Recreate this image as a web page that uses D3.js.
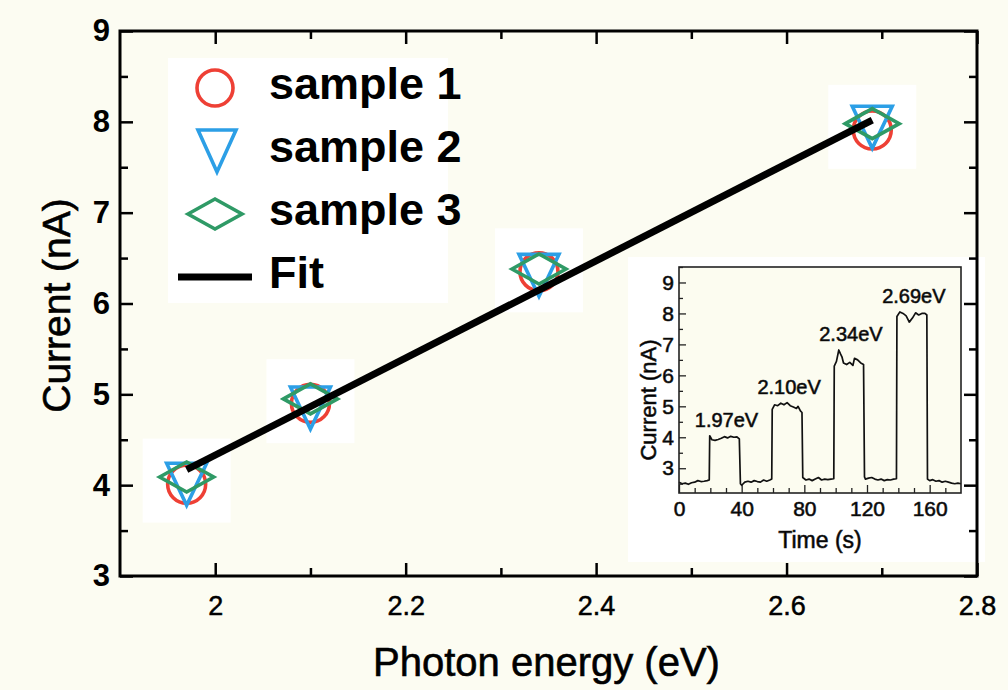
<!DOCTYPE html>
<html>
<head>
<meta charset="utf-8">
<script src="https://cdn.jsdelivr.net/npm/d3@7"></script>
<style>
  html, body { margin: 0; padding: 0; background: #fcfcf2; }
  svg { display: block; }
  text { font-family: "Liberation Sans", Arial, Helvetica, sans-serif; fill: #000; }
</style>
</head>
<body>
<svg id="chart" width="1008" height="690"></svg>
<script>
// ---------------- data ----------------
const energy = [1.97, 2.10, 2.34, 2.69];            // photon energy (eV)
const sample1 = [4.01, 4.90, 6.35, 7.91];           // current (nA)
const sample2 = [4.01, 4.85, 6.31, 7.94];
const sample3 = [4.09, 4.95, 6.38, 7.98];
const fitEnergy = [1.97, 2.69];
const fitCurrent = [4.17, 8.02];
const seriesNames = ["sample 1", "sample 2", "sample 3"];
const fitName = "Fit";
const xTicks = [2, 2.2, 2.4, 2.6, 2.8];
const xMinorTicks = [2.1, 2.3, 2.5, 2.7];
const yTicks = [3, 4, 5, 6, 7, 8, 9];
const yMinorTicks = [3.5, 4.5, 5.5, 6.5, 7.5, 8.5];

// inset: photocurrent trace
const insetTime = [0,2,4,6,8,10,12,14,16,18,19.3,19.6,21,23,25,27,29,31,33,35,37,38.5,39.2,40,42,44,46,48,50,52,54,56,58,59.2,59.5,61,63,65,67,69,71,73,75,76,77.5,78.5,79,81,83,85,87,89,91,93,95,97,98.8,99.1,100.5,102,103,104,105,107,109,111,112,114,116,117.8,118.4,119,121,123,125,127,129,131,133,135,137,138.8,139.1,141,143,145,147,149,151,153,155,157,158.2,158.6,160,162,164,166,168,170,172,174,176,178,180];
const insetCurrent = [2.55,2.50,2.52,2.48,2.53,2.55,2.60,2.57,2.58,2.60,2.62,4.05,3.92,3.90,3.93,3.97,4.02,3.98,4.03,4.00,4.01,3.95,2.50,2.45,2.55,2.58,2.55,2.60,2.57,2.55,2.62,2.58,2.62,2.65,4.90,5.05,5.02,5.10,5.05,5.12,5.02,4.98,4.93,5.00,4.85,4.80,2.70,2.62,2.65,2.60,2.65,2.70,2.62,2.65,2.63,2.65,2.66,6.30,6.45,6.82,6.70,6.60,6.40,6.35,6.42,6.32,6.55,6.50,6.40,6.35,2.72,2.65,2.68,2.70,2.65,2.62,2.65,2.60,2.63,2.62,2.65,2.66,7.90,8.05,8.00,7.92,7.72,7.85,8.02,7.95,8.00,8.00,7.95,2.65,2.60,2.63,2.58,2.60,2.55,2.58,2.55,2.52,2.50,2.52,2.50];
const pulseStart = [19.6, 59.5, 99.1, 139.1];
const pulseEnd = [38.5, 78.5, 117.8, 158.2];
const insetXTicks = [0, 40, 80, 120, 160];
const insetXMinor = [10,20,30,50,60,70,90,100,110,130,140,150,170];
const insetYTicks = [3, 4, 5, 6, 7, 8, 9];
const insetYMinor = [2.5,3.5,4.5,5.5,6.5,7.5,8.5,9.5];

// ---------------- layout ----------------
const svg = d3.select("#chart");
const colors = ["#ee4035", "#2c9fe6", "#2f9a66"];
const x = d3.scaleLinear().domain([1.9, 2.8]).range([120, 977]);
const y = d3.scaleLinear().domain([3, 9]).range([576, 31]);
const fmt = d3.format("");

// white patches (scan artefacts of the original figure)
svg.append("rect").attr("x", 168).attr("y", 58).attr("width", 280).attr("height", 245).attr("fill", "#ffffff");
svg.append("rect").attr("x", 628).attr("y", 257).attr("width", 357).attr("height", 305).attr("fill", "#ffffff");
svg.selectAll("rect.patch").data(energy).join("rect").attr("class", "patch")
  .attr("x", d => x(d) - 44).attr("y", (d, i) => y((sample1[i] + sample3[i]) / 2) - 42)
  .attr("width", 88).attr("height", 84).attr("fill", "#ffffff");

// axes (ticks inward)
const gx = svg.append("g").attr("transform", `translate(0,${y.range()[0]})`)
  .call(d3.axisBottom(x).tickValues(xTicks).tickSize(-13).tickSizeOuter(0).tickPadding(20).tickFormat(fmt));
const gxMinor = svg.append("g").attr("transform", `translate(0,${y.range()[0]})`)
  .call(d3.axisBottom(x).tickValues(xMinorTicks).tickSize(-8).tickSizeOuter(0).tickFormat(""));
const gxt = svg.append("g").attr("transform", `translate(0,${y.range()[1]})`)
  .call(d3.axisTop(x).tickValues(xTicks).tickSize(-13).tickSizeOuter(0).tickFormat(""));
const gxtMinor = svg.append("g").attr("transform", `translate(0,${y.range()[1]})`)
  .call(d3.axisTop(x).tickValues(xMinorTicks).tickSize(-8).tickSizeOuter(0).tickFormat(""));
const gy = svg.append("g").attr("transform", `translate(${x.range()[0]},0)`)
  .call(d3.axisLeft(y).tickValues(yTicks).tickSize(-13).tickSizeOuter(0).tickPadding(10).tickFormat(fmt));
const gyMinor = svg.append("g").attr("transform", `translate(${x.range()[0]},0)`)
  .call(d3.axisLeft(y).tickValues(yMinorTicks).tickSize(-8).tickSizeOuter(0).tickFormat(""));
const gyr = svg.append("g").attr("transform", `translate(${x.range()[1]},0)`)
  .call(d3.axisRight(y).tickValues(yTicks).tickSize(-13).tickSizeOuter(0).tickFormat(""));
const gyrMinor = svg.append("g").attr("transform", `translate(${x.range()[1]},0)`)
  .call(d3.axisRight(y).tickValues(yMinorTicks).tickSize(-8).tickSizeOuter(0).tickFormat(""));
[gx, gxMinor, gxt, gxtMinor, gy, gyMinor, gyr, gyrMinor].forEach(g => {
  g.select(".domain").remove();
  g.selectAll(".tick line").attr("stroke", "#000").attr("stroke-width", 2.5);
});
gx.selectAll(".tick text").attr("font-size", 27).attr("fill", "#000")
  .attr("font-family", "'Liberation Sans', Arial, sans-serif").attr("stroke", "#000").attr("stroke-width", 0.5);
gy.selectAll(".tick text").attr("font-size", 31).attr("font-weight", "bold").attr("fill", "#000")
  .attr("font-family", "'Liberation Sans', Arial, sans-serif");

// axis titles
svg.append("text").attr("x", (x.range()[0] + x.range()[1]) / 2 - 2).attr("y", 676)
  .attr("text-anchor", "middle").attr("font-size", 40).attr("stroke", "#000").attr("stroke-width", 0.6)
  .text("Photon energy (eV)");
svg.append("text").attr("transform", `translate(70,${(y.range()[0] + y.range()[1]) / 2 + 2}) rotate(-90)`)
  .attr("text-anchor", "middle").attr("font-size", 39).attr("stroke", "#000").attr("stroke-width", 0.6)
  .text("Current (nA)");

// marker shapes
function triPath(w, h) { return `M${-w},${-h / 2}L${w},${-h / 2}L0,${h / 2}Z`; }
function diaPath(w, h) { return `M${-w},0L0,${-h}L${w},0L0,${h}Z`; }
const markerStroke = 3.6;

// inset
const ix = d3.scaleLinear().domain([0, 180]).range([679, 961]);
const iy = d3.scaleLinear().domain([2.2, 9.5]).range([493, 267]);
const inset = svg.append("g");
inset.append("rect").attr("x", ix.range()[0]).attr("y", iy.range()[1])
  .attr("width", ix.range()[1] - ix.range()[0]).attr("height", iy.range()[0] - iy.range()[1])
  .attr("fill", "#fcfcf0").attr("stroke", "none");
const trace = insetTime.map((t, i) => [t, insetCurrent[i]]);
inset.append("path").datum(trace)
  .attr("d", d3.line().x(d => ix(d[0])).y(d => iy(d[1])))
  .attr("fill", "none").attr("stroke", "#111").attr("stroke-width", 1.7).attr("stroke-linejoin", "round");
const ixa = inset.append("g").attr("transform", `translate(0,${iy.range()[0]})`)
  .call(d3.axisBottom(ix).tickValues(insetXTicks).tickSize(-8).tickSizeOuter(0).tickPadding(8));
const ixm = inset.append("g").attr("transform", `translate(0,${iy.range()[0]})`)
  .call(d3.axisBottom(ix).tickValues(insetXMinor).tickSize(-5).tickSizeOuter(0).tickFormat(""));
const iya = inset.append("g").attr("transform", `translate(${ix.range()[0]},0)`)
  .call(d3.axisLeft(iy).tickValues(insetYTicks).tickSize(-7).tickSizeOuter(0).tickPadding(5).tickFormat(fmt));
const iym = inset.append("g").attr("transform", `translate(${ix.range()[0]},0)`)
  .call(d3.axisLeft(iy).tickValues(insetYMinor).tickSize(-4).tickSizeOuter(0).tickFormat(""));
[ixa, ixm, iya, iym].forEach(g => {
  g.select(".domain").remove();
  g.selectAll(".tick line").attr("stroke", "#222").attr("stroke-width", 1.3);
  g.selectAll(".tick text").attr("font-size", 21).attr("fill", "#222")
    .attr("font-family", "'Liberation Sans', Arial, sans-serif").attr("stroke", "#222").attr("stroke-width", 0.6);
});
inset.append("rect").attr("x", ix.range()[0]).attr("y", iy.range()[1])
  .attr("width", ix.range()[1] - ix.range()[0]).attr("height", iy.range()[0] - iy.range()[1])
  .attr("fill", "none").attr("stroke", "#222").attr("stroke-width", 1.6);
// pulse labels
energy.forEach((e, i) => {
  const inPulse = trace.filter(d => d[0] >= pulseStart[i] && d[0] <= pulseEnd[i]);
  const tMid = (pulseStart[i] + pulseEnd[i]) / 2;
  const top = d3.max(inPulse, d => d[1]);
  inset.append("text").attr("x", ix(tMid) + 2).attr("y", iy(top) - 9)
    .attr("text-anchor", "middle").attr("font-size", 20).attr("fill", "#222")
    .attr("stroke", "#222").attr("stroke-width", 0.6)
    .text(e.toFixed(2) + "eV");
});
inset.append("text").attr("x", (ix.range()[0] + ix.range()[1]) / 2).attr("y", 548)
  .attr("text-anchor", "middle").attr("font-size", 23).attr("fill", "#222")
  .attr("stroke", "#222").attr("stroke-width", 0.6).text("Time (s)");
inset.append("text").attr("transform", `translate(656,${(iy.range()[0] + iy.range()[1]) / 2 + 20}) rotate(-90)`)
  .attr("text-anchor", "middle").attr("font-size", 22).attr("fill", "#222")
  .attr("stroke", "#222").attr("stroke-width", 0.6).text("Current (nA)");

// data markers
const pts = svg.append("g");
pts.selectAll("circle.s1").data(energy).join("circle").attr("class", "s1")
  .attr("cx", d => x(d)).attr("cy", (d, i) => y(sample1[i])).attr("r", 19)
  .attr("fill", "none").attr("stroke", colors[0]).attr("stroke-width", markerStroke);
pts.selectAll("path.s2").data(energy).join("path").attr("class", "s2")
  .attr("transform", (d, i) => `translate(${x(d)},${y(sample2[i])})`)
  .attr("d", triPath(20, 42))
  .attr("fill", "none").attr("stroke", colors[1]).attr("stroke-width", markerStroke).attr("stroke-linejoin", "miter");
pts.selectAll("path.s3").data(energy).join("path").attr("class", "s3")
  .attr("transform", (d, i) => `translate(${x(d)},${y(sample3[i])})`)
  .attr("d", diaPath(27, 15))
  .attr("fill", "none").attr("stroke", colors[2]).attr("stroke-width", markerStroke);

// fit line
svg.append("path").datum(fitEnergy.map((e, i) => [e, fitCurrent[i]]))
  .attr("d", d3.line().x(d => x(d[0])).y(d => y(d[1])))
  .attr("stroke", "#000").attr("stroke-width", 7).attr("fill", "none");

// legend
const legend = svg.append("g");
const rowY = [88, 151, 214, 277];
const mx = 215, tx = 269;
legend.append("circle").attr("cx", mx).attr("cy", rowY[0]).attr("r", 18)
  .attr("fill", "none").attr("stroke", colors[0]).attr("stroke-width", markerStroke);
legend.append("path").attr("transform", `translate(${mx + 2},${rowY[1]})`).attr("d", triPath(19, 42))
  .attr("fill", "none").attr("stroke", colors[1]).attr("stroke-width", markerStroke);
legend.append("path").attr("transform", `translate(${mx},${rowY[2]})`).attr("d", diaPath(27, 15))
  .attr("fill", "none").attr("stroke", colors[2]).attr("stroke-width", markerStroke);
legend.append("line").attr("x1", 178).attr("x2", 252).attr("y1", rowY[3]).attr("y2", rowY[3])
  .attr("stroke", "#000").attr("stroke-width", 7);
seriesNames.concat([fitName]).forEach((n, i) => {
  legend.append("text").attr("x", tx).attr("y", rowY[i] + 11)
    .attr("font-size", 45).attr("font-weight", "bold").text(n);
});

// frame
svg.append("rect").attr("x", x.range()[0]).attr("y", y.range()[1])
  .attr("width", x.range()[1] - x.range()[0]).attr("height", y.range()[0] - y.range()[1])
  .attr("fill", "none").attr("stroke", "#000").attr("stroke-width", 3);
</script>
</body>
</html>
